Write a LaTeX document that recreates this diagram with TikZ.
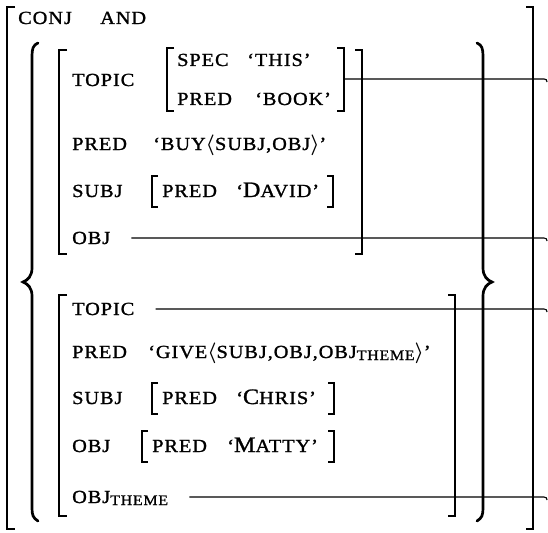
\documentclass[tikz,border=0pt]{standalone}
\usepackage{fontspec}
\setmainfont[FakeStretch=1.1,LetterSpace=5,FakeBold=1.2]{Liberation Serif}
\newcommand{\capbig}[1]{{\fontsize{22}{22}\selectfont #1}}
\newcommand{\thm}{\raisebox{-2pt}{\fontsize{14.5}{14.5}\selectfont THEME}}
\newcommand{\lang}{\raisebox{-0.5pt}{\fontsize{20}{20}\selectfont$\boldsymbol{\langle}$}}
\newcommand{\rang}{\raisebox{-0.5pt}{\fontsize{20}{20}\selectfont$\boldsymbol{\rangle}$}}
\usepackage{amsmath,amssymb,bm}
\begin{document}
\begin{tikzpicture}[x=1pt,y=-1pt,
  lbl/.style={anchor=west, inner sep=0pt, text height=12pt, text depth=0pt,
              font=\fontsize{18.5}{18.5}\selectfont},
  obrk/.style={line width=1.9pt},
  brk/.style={line width=1.6pt},
  sbrk/.style={line width=1.3pt},
  brace/.style={line width=2.7pt, line cap=round},
  conn/.style={line width=1.1pt}]
\useasboundingbox (0,0) rectangle (548,532);

% ---------- outer structure ----------
\draw[obrk] (15,7) -- (7,7) -- (7,529) -- (15,529);
\draw[obrk] (526,7) -- (533,7) -- (533,529) -- (526,529);
\node[lbl] (conj) at (18,18) {CONJ};
\node[lbl] (and) at (100,18) {AND};

% set braces
\draw[brace] (38,43) .. controls (33,45) and (32,49) .. (32,56) -- (32,268)
  .. controls (32,276) and (28,280) .. (23,282) .. controls (28,284) and (32,288) .. (32,296)
  -- (32,508) .. controls (32,515) and (33,518) .. (38,521);
\draw[brace] (477,43) .. controls (482,45) and (483,49) .. (483,56) -- (483,268)
  .. controls (483,276) and (487,280) .. (492,282) .. controls (487,284) and (483,288) .. (483,296)
  -- (483,508) .. controls (483,515) and (482,518) .. (477,521);

% ---------- first conjunct ----------
\draw[brk] (67,50) -- (59,50) -- (59,254) -- (67,254);
\draw[brk] (355,50) -- (362,50) -- (362,254) -- (355,254);

\node[lbl] (topic1) at (72,80) {TOPIC};
\draw[sbrk] (174,48) -- (167,48) -- (167,111) -- (174,111);
\draw[sbrk] (337,48) -- (344,48) -- (344,111) -- (337,111);
\coordinate (ib1r) at (345,79);
\node[lbl] (spec) at (177,60) {SPEC};
\node[lbl] (this) at (247,60) {‘THIS’};
\node[lbl] (pred1a) at (177,99) {PRED};
\node[lbl] (book) at (255,99) {‘BOOK’};

\node[lbl] (pred1) at (72,144) {PRED};
\node[lbl] (buy) at (153,144) {‘BUY\lang SUBJ,OBJ\rang’};

\node[lbl] (subj1) at (72,191) {SUBJ};
\draw[sbrk] (158,176) -- (152,176) -- (152,207) -- (158,207);
\draw[sbrk] (327,176) -- (333,176) -- (333,207) -- (327,207);
\node[lbl] (pred1b) at (162,191) {PRED};
\node[lbl] (david) at (236,191) {‘\capbig{D}AVID’};

\node[lbl] (obj1) at (72,238) {OBJ};

% ---------- second conjunct ----------
\draw[brk] (67,295) -- (59,295) -- (59,516) -- (67,516);
\draw[brk] (448,295) -- (455,295) -- (455,516) -- (448,516);

\node[lbl] (topic2) at (72,309) {TOPIC};
\node[lbl] (pred2) at (72,352) {PRED};
\node[lbl] (give) at (148,352) {‘GIVE\lang SUBJ,OBJ,OBJ\thm\rang’};

\node[lbl] (subj2) at (72,398) {SUBJ};
\draw[sbrk] (158,383) -- (152,383) -- (152,414) -- (158,414);
\draw[sbrk] (328,383) -- (334,383) -- (334,414) -- (328,414);
\node[lbl] (pred2b) at (162,398) {PRED};
\node[lbl] (chris) at (236,398) {‘\capbig{C}HRIS’};

\node[lbl] (obj2) at (72,446) {OBJ};
\draw[sbrk] (148,431) -- (142,431) -- (142,462) -- (148,462);
\draw[sbrk] (328,431) -- (334,431) -- (334,462) -- (328,462);
\node[lbl] (pred2c) at (152,446) {PRED};
\node[lbl] (matty) at (227,446) {‘\capbig{M}ATTY’};

\node[lbl] (objth) at (72,497) {OBJ\thm};

% ---------- connectors ----------
\coordinate (e1) at (544,79);
\coordinate (e2) at (544,238);
\coordinate (e3) at (544,309);
\coordinate (e4) at (544,497);
\draw[conn] (ib1r) -- (e1) .. controls (546,79) and (547,80) .. (547,82);
\draw[conn] ([xshift=21pt]obj1.east) -- (e2) .. controls (546,238) and (547,239) .. (547,241);
\draw[conn] ([xshift=21pt]topic2.east) -- (e3) .. controls (546,309) and (547,310) .. (547,312);
\draw[conn] ([xshift=21pt]objth.east) -- (e4) .. controls (546,497) and (547,498) .. (547,500);
\end{tikzpicture}
\end{document}
